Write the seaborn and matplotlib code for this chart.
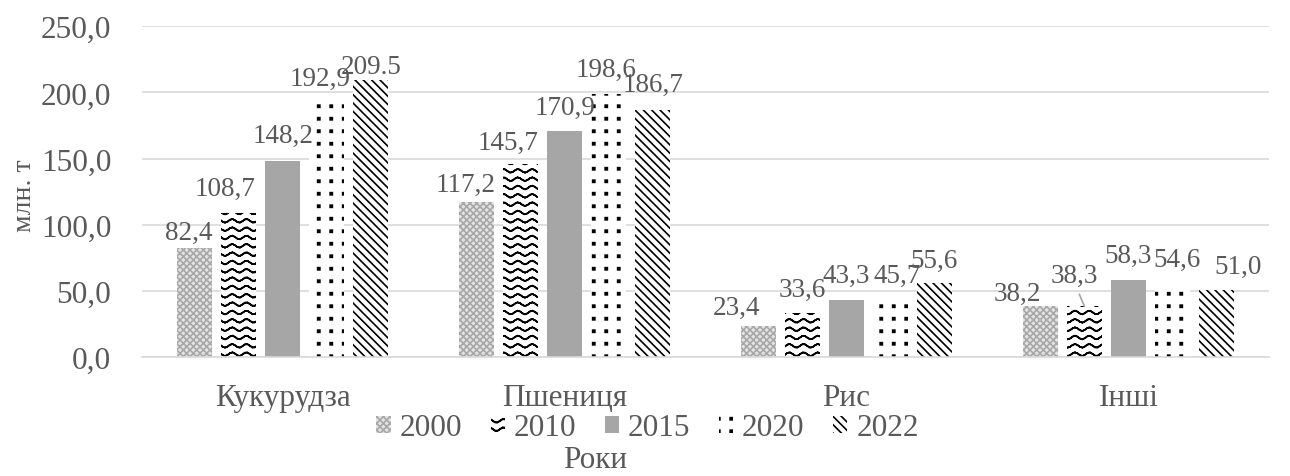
import warnings
warnings.filterwarnings("ignore")
import numpy as np
import matplotlib
matplotlib.use("Agg")
import matplotlib.pyplot as plt
import matplotlib.patches as mpatches
from matplotlib import hatch as mhatch
from matplotlib.path import Path
import seaborn as sns
import pandas as pd

categories = ["Кукурудза", "Пшениця", "Рис", "Інші"]
years = ["2000", "2010", "2015", "2020", "2022"]
v2000 = [82.4, 117.2, 23.4, 38.2]
v2010 = [108.7, 145.7, 33.6, 38.3]
v2015 = [148.2, 170.9, 43.3, 58.3]
v2020 = [192.9, 198.6, 45.7, 54.6]
v2022 = [209.5, 186.7, 55.6, 51.0]
labels2000 = ["82,4", "117,2", "23,4", "38,2"]
labels2010 = ["108,7", "145,7", "33,6", "38,3"]
labels2015 = ["148,2", "170,9", "43,3", "58,3"]
labels2020 = ["192,9", "198,6", "45,7", "54,6"]
labels2022 = ["209.5", "186,7", "55,6", "51,0"]
yticks = [0, 50, 100, 150, 200, 250]
ytick_labels = ["0,0", "50,0", "100,0", "150,0", "200,0", "250,0"]
ylabel = "млн. т"
xlabel = "Роки"

# label placement offsets in pixels (dx, dy above bar top), like the reference
label_offsets = [
    [(-6, 9), (-11, 11), (-22, 12), (-23, 7)],
    [(-14, 18), (-13, 15), (0, 17), (-10, 24)],
    [(0, 19), (0, 17), (0, 18), (0, 18)],
    [(-7, 17), (-3, 18), (7, 15), (5, 19)],
    [(0, 7), (0, 19), (0, 17), (22, 17)],
]
leader_lines = {(1, 3)}


# ---- custom hatch patterns: '~' wavy lines, ':' aligned small dots ----
class WaveHatch(mhatch.HatchPatternBase):
    npts = 41

    def __init__(self, hatch, density):
        self.num_rows = hatch.count("~") * density
        self.num_vertices = self.num_rows * self.npts * 2

    def set_vertices_and_codes(self, vertices, codes):
        n = self.num_rows
        x = np.linspace(0, 1, self.npts)
        cycles = 7
        amp = 0.22 / n
        k = 0
        for i in range(n):
            y0 = (i + 0.5) / n
            y = y0 + amp * np.sin(2 * np.pi * cycles * x)
            fw = np.column_stack([x, y])
            seg = np.vstack([fw, fw[::-1]])
            m = len(seg)
            vertices[k:k + m] = seg
            codes[k:k + m] = Path.LINETO
            codes[k] = Path.MOVETO
            k += m


class DotHatch(mhatch.HatchPatternBase):
    def __init__(self, hatch, density):
        c = hatch.count(":")
        self.ncols = 8 * c
        self.nrows = 8 * c
        self.num_vertices = self.ncols * self.nrows * 5 if c else 0

    def set_vertices_and_codes(self, vertices, codes):
        s = 0.011
        k = 0
        for i in range(self.ncols):
            for j in range(self.nrows):
                cx = (i + 0.5) / self.ncols
                cy = (j + 0.5) / self.nrows
                sq = [(cx - s, cy - s), (cx + s, cy - s), (cx + s, cy + s),
                      (cx - s, cy + s), (cx - s, cy - s)]
                vertices[k:k + 5] = sq
                codes[k:k + 5] = [Path.MOVETO, Path.LINETO, Path.LINETO,
                                  Path.LINETO, Path.CLOSEPOLY]
                k += 5


mhatch._hatch_types.append(WaveHatch)
mhatch._hatch_types.append(DotHatch)

series = [v2000, v2010, v2015, v2020, v2022]
label_sets = [labels2000, labels2010, labels2015, labels2020, labels2022]
rows = []
for y, vals in zip(years, series):
    for c, v in zip(categories, vals):
        rows.append({"cat": c, "year": y, "val": v})
df = pd.DataFrame(rows)

sns.set_style("white")
plt.rcParams["font.family"] = ["Liberation Serif", "DejaVu Serif"]
plt.rcParams["hatch.linewidth"] = 1.2
txt = "#595959"

fig = plt.figure(figsize=(12.9, 4.77), dpi=100)
ax = fig.add_axes([0.110, 0.2495, 0.874, 0.6935])

styles = [
    dict(fc="#e4e4e4", ec="#a8a8a8", hatch="xxxxx"),
    dict(fc="white", ec="#000000", hatch="~~"),
    dict(fc="#a6a6a6", ec="#a6a6a6", hatch=None),
    dict(fc="white", ec="#000000", hatch=":"),
    dict(fc="white", ec="#000000", hatch="\\\\\\\\"),
]
palette = {y: s["fc"] for y, s in zip(years, styles)}

sns.barplot(data=df, x="cat", y="val", hue="year", order=categories,
            hue_order=years, palette=palette, width=0.78, gap=0.2,
            saturation=1, ax=ax, legend=False)

for si, (cont, st, labs) in enumerate(zip(ax.containers, styles, label_sets)):
    for ci, p in enumerate(cont):
        p.set_facecolor(st["fc"])
        p.set_edgecolor(st["ec"])
        p.set_linewidth(0)
        if st["hatch"]:
            p.set_hatch(st["hatch"])
        dx, dy = label_offsets[si][ci]
        x = p.get_x() + p.get_width() / 2
        y = p.get_height()
        kw = {}
        if (si, ci) in leader_lines:
            kw["arrowprops"] = dict(arrowstyle="-", color="#a6a6a6", lw=1.2,
                                    shrinkA=2, shrinkB=0, relpos=(0.55, 0.0))
        ax.annotate(labs[ci], xy=(x, y), xytext=(dx, dy),
                    textcoords="offset pixels", ha="center", va="baseline",
                    fontsize=19.5, color=txt, **kw)

ax.set_ylim(0, 250)
ax.set_yticks(yticks)
ax.set_yticklabels(ytick_labels, fontsize=22.5, color=txt)
ax.tick_params(axis="y", length=0, pad=22)
ax.tick_params(axis="x", length=0, pad=19, labelsize=22.5, labelcolor=txt)
ax.yaxis.grid(True, color="#d9d9d9", linewidth=1.2)
ax.set_axisbelow(True)
for s in ["left", "right", "top"]:
    ax.spines[s].set_visible(False)
ax.spines["bottom"].set_color("#d9d9d9")
ax.spines["bottom"].set_linewidth(1.2)
ax.set_xlabel("")
ax.set_ylabel("")
fig.text(0.019, 0.589, ylabel, rotation=90, fontsize=20, color=txt,
         ha="center", va="center")

handles = []
for y, st in zip(years, styles):
    handles.append(mpatches.Patch(facecolor=st["fc"], edgecolor=st["ec"],
                                  hatch=st["hatch"], linewidth=0, label=y))
fig.legend(handles=handles, loc="center", bbox_to_anchor=(0.502, 0.101),
           ncol=5, frameon=False, fontsize=22.5, labelcolor=txt,
           handlelength=0.45, handleheight=0.45, handletextpad=0.3,
           columnspacing=0.9, borderpad=0, borderaxespad=0)
fig.text(0.461, 0.019, xlabel, fontsize=22.5, color=txt, ha="center",
         va="baseline")

fig.savefig("out.png", dpi=100)
